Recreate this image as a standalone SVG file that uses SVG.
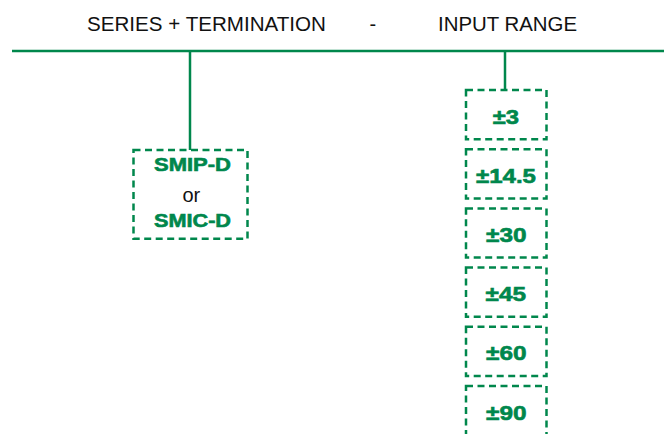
<svg xmlns="http://www.w3.org/2000/svg" width="664" height="434" viewBox="0 0 664 434">
<style>
.title{font-family:"Liberation Sans",Arial,sans-serif;font-size:20px;fill:#111}
.lbl{font-family:"Liberation Sans",Arial,sans-serif;font-weight:bold;fill:#00874c;stroke:#00874c;stroke-width:0.6}
.or{font-family:"Liberation Sans",Arial,sans-serif;font-size:20px;fill:#111}
.box{fill:none;stroke:#00874c;stroke-width:2.5;stroke-dasharray:7 4.5}
.ln{stroke:#00874c;stroke-width:2.5;fill:none}
</style>
<rect width="664" height="434" fill="#fff"/>
<g id="title">
<text class="title" x="87" y="31" textLength="239" lengthAdjust="spacingAndGlyphs">SERIES + TERMINATION</text>
<text class="title" x="369.5" y="31">-</text>
<text class="title" x="438" y="31" textLength="139" lengthAdjust="spacingAndGlyphs">INPUT RANGE</text>
</g>
<g id="connectors">
<line class="ln" x1="12" y1="51" x2="664" y2="51"/>
<line class="ln" x1="190" y1="51" x2="190" y2="150"/>
<line class="ln" x1="505" y1="51" x2="505" y2="90"/>
</g>
<g id="series">
<rect class="box" x="133.5" y="150" width="114" height="88.7"/>
<text class="lbl" x="154" y="171" font-size="18.5" textLength="77" lengthAdjust="spacingAndGlyphs">SMIP-D</text>
<text class="or" x="182.5" y="201.7">or</text>
<text class="lbl" x="154" y="227" font-size="18.5" textLength="77" lengthAdjust="spacingAndGlyphs">SMIC-D</text>
</g>
<g id="range3">
<rect class="box" x="466" y="90" width="80.5" height="49.2"/>
<text class="lbl" x="492.7" y="123.5" font-size="21" textLength="26.3" lengthAdjust="spacingAndGlyphs">±3</text>
</g>
<g id="range14_5">
<rect class="box" x="466" y="149.2" width="80.5" height="49.2"/>
<text class="lbl" x="476" y="182.7" font-size="21" textLength="60" lengthAdjust="spacingAndGlyphs">±14.5</text>
</g>
<g id="range30">
<rect class="box" x="466" y="208.4" width="80.5" height="49.2"/>
<text class="lbl" x="486" y="241.9" font-size="21" textLength="40.5" lengthAdjust="spacingAndGlyphs">±30</text>
</g>
<g id="range45">
<rect class="box" x="466" y="267.6" width="80.5" height="49.2"/>
<text class="lbl" x="485.5" y="301.1" font-size="21" textLength="40.5" lengthAdjust="spacingAndGlyphs">±45</text>
</g>
<g id="range60">
<rect class="box" x="466" y="326.8" width="80.5" height="49.2"/>
<text class="lbl" x="486" y="360.3" font-size="21" textLength="40.5" lengthAdjust="spacingAndGlyphs">±60</text>
</g>
<g id="range90">
<rect class="box" x="466" y="386" width="80.5" height="60"/>
<text class="lbl" x="486" y="419.5" font-size="21" textLength="40.5" lengthAdjust="spacingAndGlyphs">±90</text>
</g>
</svg>
